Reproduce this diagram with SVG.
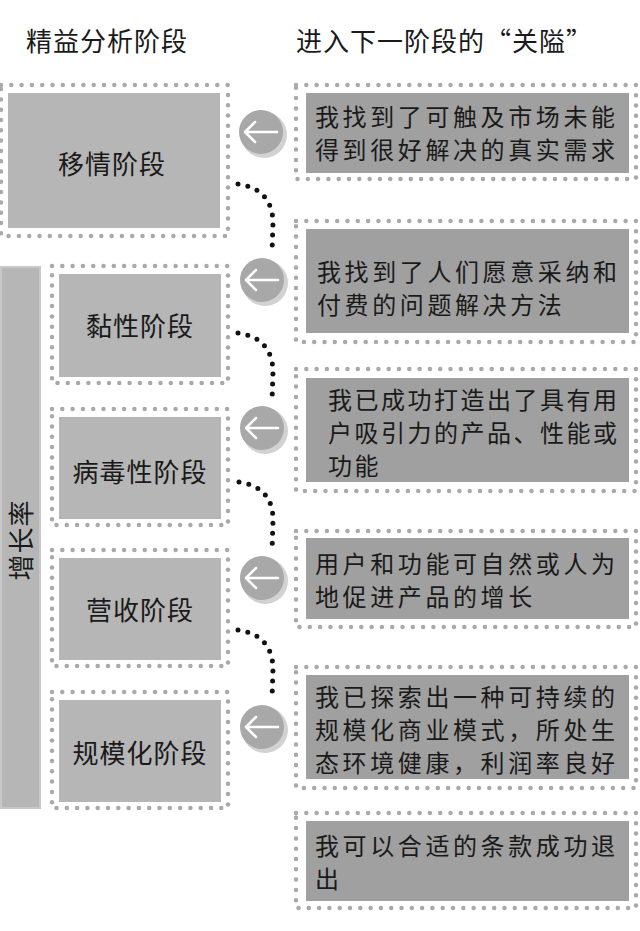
<svg xmlns="http://www.w3.org/2000/svg" width="640" height="931" viewBox="0 0 640 931">
<style>
  text { font-family: "Noto Sans CJK SC", "Noto Sans", sans-serif; fill: #1a1a1a; }
  .title { font-size: 26px; letter-spacing: 1px; }
  .lbl { font-size: 26px; text-anchor: middle; letter-spacing: 1px; }
  .desc { font-size: 24px; letter-spacing: 3.6px; }
  .tight { letter-spacing: 2.5px; }
  .dots { fill: none; stroke: #a9a9a9; stroke-width: 4.5; stroke-linecap: round; stroke-dasharray: 0 10.3; }
  .lin { fill: #b6b6b6; }
  .rin { fill: #a0a0a0; }
  .conn { fill: none; stroke: #111; stroke-width: 5; stroke-linecap: round; stroke-dasharray: 0 10; }
  .csh { fill: #d2d2d2; }
  .cir { fill: #a8a8a8; }
  .arr { fill: none; stroke: #fff; stroke-width: 2.5; stroke-linecap: round; stroke-linejoin: round; }
</style>
<rect width="640" height="931" fill="#fff"/>

<g id="titles">
  <text class="title" x="26" y="51">精益分析阶段</text>
  <text class="title" x="296" y="51">进入下一阶段的“关隘”</text>
</g>

<g id="growth-bar">
  <rect x="1" y="267" width="39" height="541" fill="#b6b6b6" stroke="#c8c8c8" stroke-width="2"/>
  <text class="lbl" transform="translate(31,540) rotate(-90)" x="0" y="0">增长率</text>
</g>

<g id="stage-empathy">
  <rect class="dots" x="1" y="85" width="227" height="151"/>
  <rect class="lin" x="8" y="93" width="212" height="135"/>
  <text class="lbl" x="112" y="174">移情阶段</text>
</g>
<g id="stage-sticky">
  <rect class="dots" x="52" y="266" width="176" height="117"/>
  <rect class="lin" x="59" y="274" width="162" height="103"/>
  <text class="lbl" x="140" y="336">黏性阶段</text>
</g>
<g id="stage-viral">
  <rect class="dots" x="52" y="409" width="176" height="116"/>
  <rect class="lin" x="59" y="417" width="162" height="102"/>
  <text class="lbl" x="140" y="482">病毒性阶段</text>
</g>
<g id="stage-revenue">
  <rect class="dots" x="52" y="550" width="176" height="116"/>
  <rect class="lin" x="59" y="558" width="162" height="102"/>
  <text class="lbl" x="140" y="620">营收阶段</text>
</g>
<g id="stage-scale">
  <rect class="dots" x="52" y="692" width="176" height="116"/>
  <rect class="lin" x="59" y="700" width="162" height="102"/>
  <text class="lbl" x="140" y="763">规模化阶段</text>
</g>

<g id="gate-1">
  <rect class="dots" x="296" y="85" width="340" height="94"/>
  <rect class="rin" x="306" y="93" width="323" height="80"/>
  <text class="desc" x="315" y="126">我找到了可触及市场未能</text>
  <text class="desc" x="315" y="159">得到很好解决的真实需求</text>
</g>
<g id="gate-2">
  <rect class="dots" x="296" y="221" width="340" height="121"/>
  <rect class="rin" x="306" y="229" width="323" height="104"/>
  <text class="desc" x="317" y="281">我找到了人们愿意采纳和</text>
  <text class="desc" x="317" y="314">付费的问题解决方法</text>
</g>
<g id="gate-3">
  <rect class="dots" x="296" y="369" width="340" height="122"/>
  <rect class="rin" x="306" y="378" width="323" height="104"/>
  <text class="desc tight" x="328" y="409">我已成功打造出了具有用</text>
  <text class="desc tight" x="328" y="442">户吸引力的产品、性能或</text>
  <text class="desc tight" x="328" y="475">功能</text>
</g>
<g id="gate-4">
  <rect class="dots" x="296" y="531" width="340" height="96"/>
  <rect class="rin" x="306" y="538" width="323" height="81"/>
  <text class="desc" x="315" y="573">用户和功能可自然或人为</text>
  <text class="desc" x="315" y="606">地促进产品的增长</text>
</g>
<g id="gate-5">
  <rect class="dots" x="296" y="667" width="340" height="121"/>
  <rect class="rin" x="306" y="675" width="323" height="104"/>
  <text class="desc" x="315" y="706">我已探索出一种可持续的</text>
  <text class="desc" x="315" y="739">规模化商业模式，所处生</text>
  <text class="desc" x="315" y="772">态环境健康，利润率良好</text>
</g>
<g id="gate-6">
  <rect class="dots" x="296" y="813" width="340" height="95"/>
  <rect class="rin" x="306" y="821" width="323" height="80"/>
  <text class="desc" x="315" y="855">我可以合适的条款成功退</text>
  <text class="desc" x="315" y="888">出</text>
</g>

<g id="connectors">
  <path class="conn" d="M238,184 Q272,189 273,222 L272,253"/>
  <path class="conn" d="M238,333 Q272,338 273,371 L272,402"/>
  <path class="conn" d="M239,482 Q273,487 273,520 L272,552"/>
  <path class="conn" d="M238,630 Q272,635 273,668 L272,700"/>
  <g id="arrow-1">
    <circle class="csh" cx="264" cy="135" r="23"/>
    <circle class="cir" cx="261" cy="132" r="22"/>
    <path class="arr" d="M277,132 H245 M255,122 L245,132 L255,142"/>
  </g>
  <g id="arrow-2">
    <circle class="csh" cx="265" cy="283" r="23"/>
    <circle class="cir" cx="262" cy="280" r="22"/>
    <path class="arr" d="M278,280 H246 M256,270 L246,280 L256,290"/>
  </g>
  <g id="arrow-3">
    <circle class="csh" cx="265" cy="431" r="23"/>
    <circle class="cir" cx="262" cy="428" r="22"/>
    <path class="arr" d="M278,428 H246 M256,418 L246,428 L256,438"/>
  </g>
  <g id="arrow-4">
    <circle class="csh" cx="265" cy="581" r="23"/>
    <circle class="cir" cx="262" cy="578" r="22"/>
    <path class="arr" d="M278,578 H246 M256,568 L246,578 L256,588"/>
  </g>
  <g id="arrow-5">
    <circle class="csh" cx="265" cy="730" r="23"/>
    <circle class="cir" cx="262" cy="727" r="22"/>
    <path class="arr" d="M278,727 H246 M256,717 L246,727 L256,737"/>
  </g>
</g>
</svg>
